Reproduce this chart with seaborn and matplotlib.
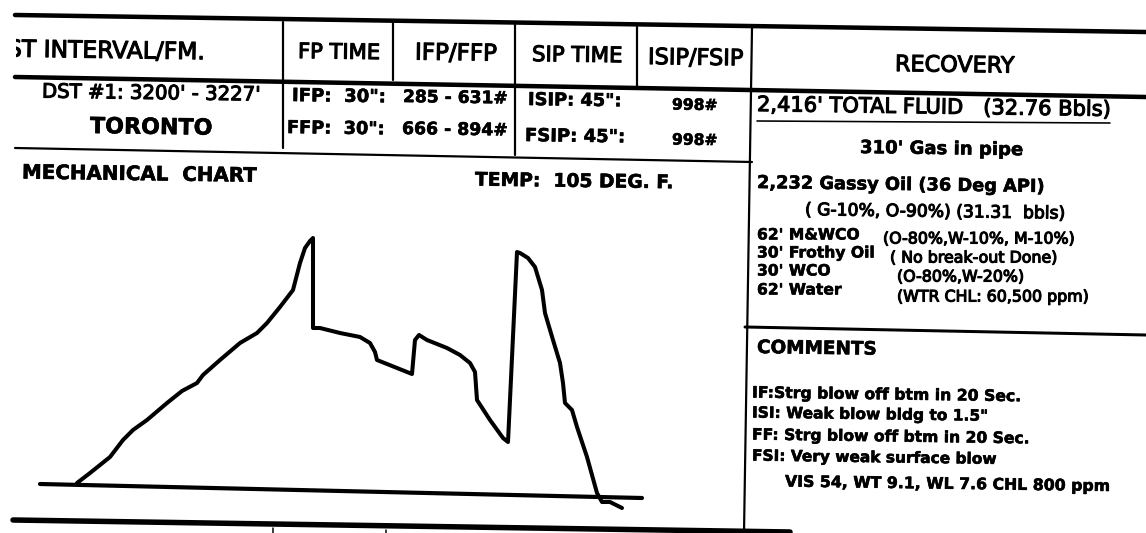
import matplotlib
matplotlib.use("Agg")
import matplotlib.pyplot as plt
import seaborn as sns
import pandas as pd
from matplotlib.patches import Rectangle
import matplotlib.patheffects as pe

# ---------------- data ----------------
# mechanical chart trace: distance along chart vs pen deflection (chart units)
chart_pos = [37, 50, 60, 70, 83, 93, 107, 127, 142, 157, 163, 180, 200, 217, 227, 240,
             253, 260, 265, 270, 273, 273, 280, 300, 320, 330, 335, 337, 372, 375, 379,
             387, 407, 420, 430, 435, 437, 450, 463, 468, 477, 480, 488, 495, 502, 505,
             513, 520, 523, 525, 532, 537, 547, 557, 562, 570, 582]
chart_defl = [1, 11, 19, 27, 44, 54, 64, 81, 93, 101, 109, 124, 141, 151, 161, 177,
              194, 221, 236, 243, 246, 156, 156, 151, 147, 141, 132, 124, 110, 144, 149,
              144, 136, 129, 121, 112, 84, 64, 46, 42, 232, 231, 226, 217, 194, 171,
              144, 121, 101, 81, 74, 57, 27, -9, -18, -18, -24]
base_pos = [0, 602]
base_defl = [0, -14]

header_labels = ["ST INTERVAL/FM.", "FP TIME", "IFP/FFP", "SIP TIME", "ISIP/FSIP", "RECOVERY"]
interval_labels = ["DST #1: 3200' - 3227'", "TORONTO"]
fp_labels = ["IFP:  30\":", "FFP:  30\":"]
fp_values = ["285 - 631#", "666 - 894#"]
sip_labels = ["ISIP: 45\":", "FSIP: 45\":"]
sip_values = ["998#", "998#"]
chart_title = "MECHANICAL  CHART"
temp_label = "TEMP:  105 DEG. F."
total_fluid = "2,416' TOTAL FLUID   (32.76 Bbls)"
gas_line = "310' Gas in pipe"
oil_line = "2,232 Gassy Oil (36 Deg API)"
oil_detail = "( G-10%, O-90%) (31.31  bbls)"
fluid_names = ["62' M&WCO", "30' Frothy Oil", "30' WCO", "62' Water"]
fluid_details = ["(O-80%,W-10%, M-10%)", "( No break-out Done)", "(O-80%,W-20%)",
                 "(WTR CHL: 60,500 ppm)"]
comments_title = "COMMENTS"
comments = ["IF:Strg blow off btm in 20 Sec.", "ISI: Weak blow bldg to 1.5\"",
            "FF: Strg blow off btm in 20 Sec.", "FSI: Very weak surface blow"]
mud_line = "VIS 54, WT 9.1, WL 7.6 CHL 800 ppm"

# ---------------- figure ----------------
sns.set_style("white")
plt.rcParams['font.family'] = ['DejaVu Sans']

W, H = 1146, 533
fig = plt.figure(figsize=(W / 100, H / 100), dpi=100)
fig.patch.set_facecolor("white")
ax = fig.add_axes([0, 0, 1, 1])
ax.set_xlim(0, W)
ax.set_ylim(H, 0)
ax.axis("off")


def seg(x0, y0, x1, y1, px):
    ax.plot([x0, x1], [y0, y1], color="black", lw=px * 0.72, solid_capstyle="round")


# table rules
seg(15, 15, 1146, 32, 4.5)      # top
seg(15, 77, 1146, 97, 4.5)      # under header
seg(15, 148, 752, 162, 2.2)     # under first row
seg(745, 327, 1146, 335, 3.0)   # recovery / comments
seg(13, 520, 790, 532, 5.5)     # bottom
seg(283, 22, 283, 148, 2.2)
seg(393, 22, 393, 80, 2.2)
seg(515, 25, 515, 155, 2.2)
seg(637, 27, 637, 87, 2.2)
seg(752, 28, 744, 533, 2.2)
seg(273, 528, 273, 533, 1.5)
seg(386, 530, 386, 533, 1.5)
seg(757, 121, 1110, 123, 1.6)   # underline total fluid

items = []


def put(s, x0, x1, y, weight="normal", size=15, clip=None, rot=-0.8, maxsize=None):
    t = ax.text(x0, y, s, fontsize=size, fontweight=weight, ha="left", va="center",
                rotation=rot, rotation_mode="anchor", color="black")
    sw = 0.4 if weight == "bold" else 0.8
    t.set_path_effects([pe.withStroke(linewidth=sw, foreground="black")])
    if clip is not None:
        r = Rectangle((clip, 0), 400, 120, transform=ax.transData, facecolor="none")
        t.set_clip_on(True)
        t.set_clip_path(r)
    items.append((t, x1 - x0, maxsize))
    return t


# header
put(header_labels[0], 7, 205, 50, clip=16)
put(header_labels[1], 298, 380, 52)
put(header_labels[2], 415, 497, 53)
put(header_labels[3], 532, 623, 55)
put(header_labels[4], 648, 743, 58)
put(header_labels[5], 895, 1015, 65)

# first row
put(interval_labels[0], 42, 260, 92)
put(interval_labels[1], 90, 213, 127, weight="bold")
put(fp_labels[0], 292, 386, 96, weight="bold")
put(fp_labels[1], 287, 385, 128, weight="bold")
put(fp_values[0], 403, 508, 97, weight="bold")
put(fp_values[1], 402, 508, 129, weight="bold")
put(sip_labels[0], 528, 622, 100, weight="bold")
put(sip_labels[1], 525, 625, 136, weight="bold")
put(sip_values[0], 672, 718, 105, weight="bold")
put(sip_values[1], 672, 718, 140, weight="bold")

put(chart_title, 22, 258, 173, weight="bold")
put(temp_label, 475, 673, 180, weight="bold")

# recovery column
put(total_fluid, 757, 1110, 105)
put(gas_line, 860, 1023, 148, weight="bold")
put(oil_line, 757, 1045, 183, weight="bold")
put(oil_detail, 805, 1065, 210)
name_x1 = [876, 888, 840, 848]
name_y = [235, 253, 271, 290]
det_x0 = [883, 890, 897, 897]
det_x1 = [1100, 1078, 1048, 1110]
det_y = [239, 258, 277, 297]
for i in range(4):
    put(fluid_names[i], 757, name_x1[i], name_y[i], weight="bold", rot=0, maxsize=11.2)
    put(fluid_details[i], det_x0[i], det_x1[i], det_y[i], rot=0, maxsize=11.4)

put(comments_title, 757, 877, 348, weight="bold")
com_x1 = [1021, 987, 1030, 997]
com_y = [393, 413, 435, 456]
for i in range(4):
    put(comments[i], 752, com_x1[i], com_y[i], weight="bold")
put(mud_line, 785, 1110, 482, weight="bold")

# fit text widths
for _ in range(3):
    fig.canvas.draw()
    rend = fig.canvas.get_renderer()
    for t, w, mx in items:
        bb = t.get_window_extent(rend)
        if bb.width > 0:
            fs = t.get_fontsize() * w / bb.width
            if mx is not None:
                fs = min(fs, mx)
            t.set_fontsize(fs)

# mechanical chart
ax2 = fig.add_axes([20 / W, (H - 515) / H, 640 / W, 295 / H])
ax2.set_xlim(-20, 620)
ax2.set_ylim(-31, 264)
ax2.patch.set_alpha(0)
ax2.axis("off")
sns.lineplot(x=base_pos, y=base_defl, sort=False, estimator=None, ax=ax2,
             color="black", lw=3.0, solid_capstyle="round")
sns.lineplot(x=chart_pos, y=chart_defl, sort=False, estimator=None, ax=ax2,
             color="black", lw=2.9, solid_capstyle="round", solid_joinstyle="round")

fig.savefig("out.png", dpi=100, facecolor="white")
